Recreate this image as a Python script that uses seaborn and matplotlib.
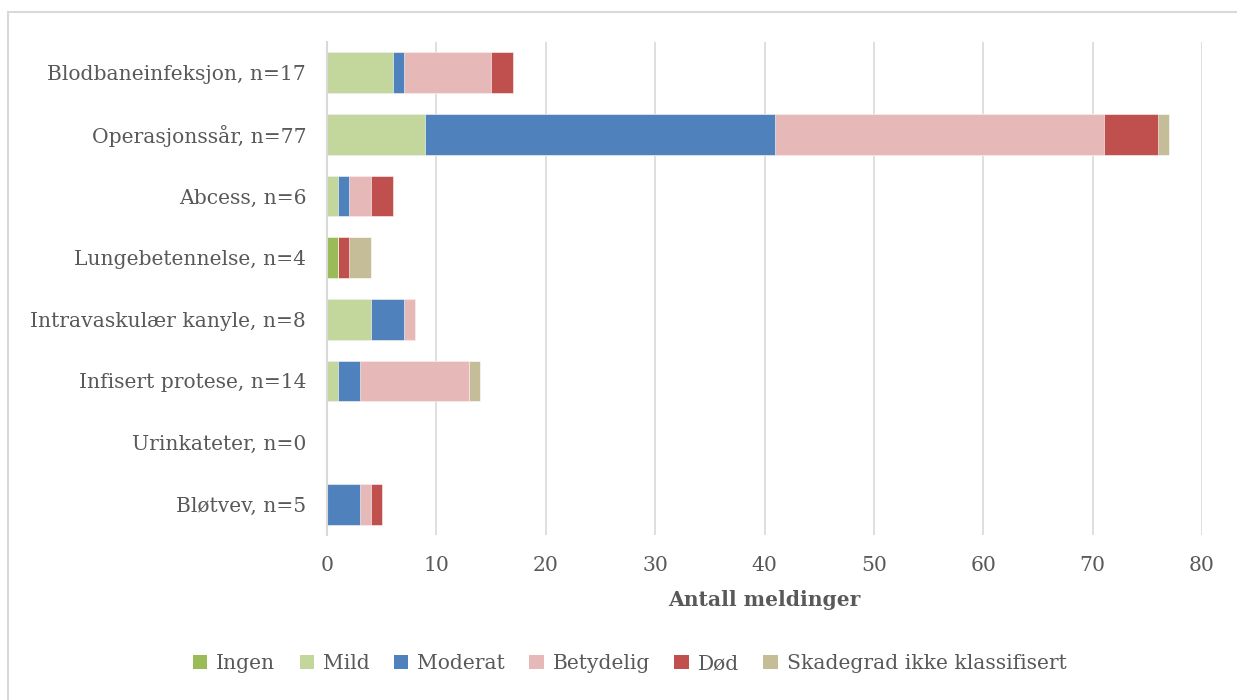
import numpy as np
import pandas as pd
import matplotlib
matplotlib.use("Agg")
import matplotlib.pyplot as plt
from matplotlib.patches import Rectangle, Patch
import seaborn as sns

categories = [
    "Blodbaneinfeksjon, n=17",
    "Operasjonssår, n=77",
    "Abcess, n=6",
    "Lungebetennelse, n=4",
    "Intravaskulær kanyle, n=8",
    "Infisert protese, n=14",
    "Urinkateter, n=0",
    "Bløtvev, n=5",
]
series_names = ["Ingen", "Mild", "Moderat", "Betydelig", "Død", "Skadegrad ikke klassifisert"]
ingen     = [0, 0, 0, 1, 0, 0, 0, 0]
mild      = [6, 9, 1, 0, 4, 1, 0, 0]
moderat   = [1, 32, 1, 0, 3, 2, 0, 3]
betydelig = [8, 30, 2, 0, 1, 10, 0, 1]
dod       = [2, 5, 2, 1, 0, 0, 0, 1]
ikke_klass = [0, 1, 0, 2, 0, 1, 0, 0]
colors = ["#9BBB59", "#C3D69B", "#4F81BD", "#E6B9B8", "#C0504D", "#C4BD97"]

text_color = "#595959"
sns.set_theme(style="white")
plt.rcParams["font.family"] = ["DejaVu Serif"]

df = pd.DataFrame(
    {name: vals for name, vals in zip(series_names,
                                      [ingen, mild, moderat, betydelig, dod, ikke_klass])},
    index=categories,
)
cum = df.cumsum(axis=1)

fig = plt.figure(figsize=(12.37, 7.0), dpi=100)
ax = fig.add_axes([0.2644, 0.2357, 0.7073, 0.7043])

# stacked bars: draw the cumulative totals from the outermost segment inward
for name, col in reversed(list(zip(series_names, colors))):
    plot_df = pd.DataFrame({"kategori": categories, "verdi": cum[name].values})
    sns.barplot(data=plot_df, y="kategori", x="verdi", orient="h", color=col,
                width=0.66, ax=ax, saturation=1, edgecolor="white", linewidth=0.4)

ax.set_xlim(0, 80)
ax.set_ylim(7.5, -0.5)
ax.set_xticks(range(0, 81, 10))
ax.grid(axis="x", color="#D9D9D9", linewidth=1.2)
ax.set_axisbelow(True)
for s in ["top", "right", "bottom"]:
    ax.spines[s].set_visible(False)
ax.spines["left"].set_color("#D9D9D9")
ax.spines["left"].set_linewidth(1.5)
ax.tick_params(axis="both", length=0, labelsize=14.6, colors=text_color)
ax.tick_params(axis="x", pad=15)
ax.tick_params(axis="y", pad=15)
ax.set_ylabel("")
ax.set_xlabel("Antall meldinger", fontsize=14.6, fontweight="bold", color=text_color, labelpad=11)

handles = [Patch(facecolor=c, edgecolor="none") for c in colors]
fig.legend(handles, series_names, loc="center", bbox_to_anchor=(0.509, 0.052), ncol=6,
           frameon=False, fontsize=14.6, labelcolor=text_color, handlelength=0.7,
           handleheight=0.7, handletextpad=0.45, columnspacing=1.2)

# chart frame
fig.add_artist(Rectangle((8 / 1237, -0.05), 1.1, 1 - 12 / 700 + 0.05, transform=fig.transFigure,
                         fill=False, edgecolor="#D9D9D9", linewidth=1.5))

fig.savefig("out.png", dpi=100, facecolor="white")
